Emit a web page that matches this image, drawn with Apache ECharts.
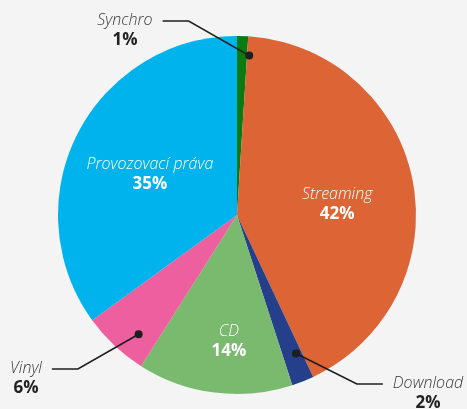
<!DOCTYPE html>
<html>
<head>
<meta charset="utf-8">
<script src="https://cdn.jsdelivr.net/npm/echarts@6/dist/echarts.min.js"></script>
<style>
    html, body { margin: 0; padding: 0; background: #f4f4f4; }
    #chart { width: 467px; height: 409px; }
</style>
</head>
<body>
<div id="chart"></div>
<script>
// podíly příjmů (%)
const categories = ['Synchro', 'Streaming', 'Download', 'CD', 'Vinyl', 'Provozovací práva'];
const shares = [1, 42, 2, 14, 6, 35];

const colors = ['#0b7a10', '#dd6434', '#253f8b', '#7aba6e', '#ee5fa0', '#00b3ec'];

// pie geometry
const CX = 237, CY = 215, R = 179;
// labels are placed around a point slightly below-right of the centre
const LX = CX + 7, LY = CY + 7;

// inside labels: distance from the label anchor (share of radius)
const insideRadius = { 'Streaming': 0.53, 'CD': 0.67, 'Provozovací práva': 0.59 };
// outside labels: centre of the text block, side of the leader, dot distance
const outsideLabel = {
    'Synchro': { x: 125, y: 30, side: 'left', dot: 0.93 },
    'Vinyl': { x: 26, y: 378, side: 'left', dot: 0.86 },
    'Download': { x: 428, y: 393, side: 'right', dot: 0.79 }
};

const total = shares.reduce((a, b) => a + b, 0);
function midAngle(i) {
    let before = 0;
    for (let k = 0; k < i; k++) before += shares[k];
    // clockwise from 12 o'clock, radians
    return (before + shares[i] / 2) / total * Math.PI * 2;
}
function pointAt(i, f) {
    const a = midAngle(i);
    return [LX + Math.sin(a) * R * f, LY - Math.cos(a) * R * f];
}

const leaders = [];

const data = categories.map((name, i) => {
    const outside = !!outsideLabel[name];
    return {
        name: name,
        value: shares[i],
        itemStyle: { color: colors[i] },
        label: {
            position: outside ? 'outside' : 'inside',
            rich: {
                n: {
                    fontFamily: 'Open Sans',
                    fontStyle: 'italic',
                    fontWeight: 300,
                    fontSize: 16,
                    color: outside ? '#3a3a3a' : '#ffffff',
                    lineHeight: 20
                },
                p: {
                    fontFamily: 'Open Sans',
                    fontWeight: 'bold',
                    fontSize: 17,
                    color: outside ? '#222222' : '#ffffff',
                    lineHeight: 20
                }
            }
        },
        labelLine: { show: false }
    };
});

const chart = echarts.init(document.getElementById('chart'));

const option = {
    backgroundColor: '#f4f4f4',
    animation: false,
    series: [
        {
            type: 'pie',
            center: [CX, CY],
            radius: [0, R],
            startAngle: 90,
            clockwise: true,
            data: data,
            label: {
                formatter: '{n|{b}}\n{p|{c}%}',
                align: 'center'
            },
            labelLayout: function (params) {
                const i = params.dataIndex;
                const name = categories[i];
                const w = params.labelRect.width;
                if (outsideLabel[name]) {
                    const o = outsideLabel[name];
                    const dot = pointAt(i, o.dot);
                    const ly = o.y - 9;
                    const endX = o.side === 'left' ? o.x + w / 2 + 10 : o.x - w / 2 - 10;
                    const elbowX = o.side === 'left' ? endX + 26 : endX - 26;
                    leaders[i] = [dot, [elbowX, ly], [endX, ly]];
                    return { x: o.x, y: o.y, align: 'center', verticalAlign: 'middle' };
                }
                const p = pointAt(i, insideRadius[name] || 0.5);
                return { x: p[0], y: p[1], align: 'center', verticalAlign: 'middle' };
            }
        }
    ]
};

chart.setOption(option);

// leader lines with black dots
const graphics = [];
leaders.forEach(pts => {
    if (!pts) return;
    graphics.push({
        type: 'polyline',
        shape: { points: pts },
        style: { stroke: '#1e1e1e', lineWidth: 1.6, fill: null },
        z: 100
    });
    graphics.push({
        type: 'circle',
        shape: { cx: pts[0][0], cy: pts[0][1], r: 4 },
        style: { fill: '#1e1e1e' },
        z: 101
    });
});
chart.setOption({ graphic: graphics });
</script>
</body>
</html>
